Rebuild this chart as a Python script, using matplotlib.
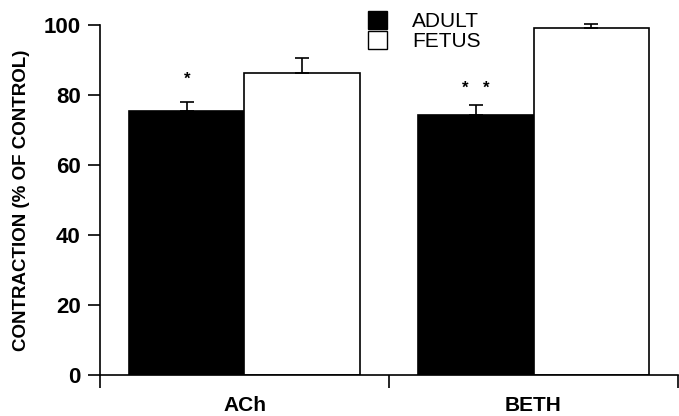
import matplotlib
matplotlib.use("agg")
import matplotlib.pyplot as plt
from matplotlib.patches import Patch

plt.rcParams['font.family'] = ['Liberation Sans', 'DejaVu Sans']

# data
categories = ['ACh', 'BETH']
adult = [75.3, 74.2]
adult_err = [2.7, 2.9]
fetus = [86.2, 99.1]
fetus_err = [4.4, 1.2]

fig = plt.figure(figsize=(6.79, 4.16), dpi=100)
ax = fig.add_axes([100 / 679., 41 / 416., 578 / 679., 350 / 416.])

centers = [0.5, 1.5]
w = 0.4
xa = [c - w / 2 for c in centers]
xf = [c + w / 2 for c in centers]

ax.bar(xa, adult, w, color='black', edgecolor='black', linewidth=1.2, zorder=2)
ax.bar(xf, fetus, w, color='white', edgecolor='black', linewidth=1.2, zorder=2)
ax.errorbar(xa, adult, yerr=[[0, 0], adult_err], fmt='none', ecolor='black',
            elinewidth=1.2, capsize=5, capthick=1.2, zorder=3, clip_on=False)
ax.errorbar(xf, fetus, yerr=[[0, 0], fetus_err], fmt='none', ecolor='black',
            elinewidth=1.2, capsize=5, capthick=1.2, zorder=3, clip_on=False)

# significance marks
ax.text(xa[0], 84.5, '*', ha='center', va='center', fontsize=12, fontweight='bold')
ax.text(xa[1] - 0.035, 81.8, '*', ha='center', va='center', fontsize=12, fontweight='bold')
ax.text(xa[1] + 0.035, 81.8, '*', ha='center', va='center', fontsize=12, fontweight='bold')

ax.set_xlim(0, 2)
ax.set_ylim(0, 100)
ax.set_yticks(range(0, 101, 20))
ax.set_xticks([0, 1, 2])
ax.set_xticklabels([])
ax.set_xticks(centers, minor=True)
ax.set_xticklabels(categories, minor=True, fontsize=15, fontweight='bold')
ax.tick_params(axis='x', which='minor', length=0, pad=15)
ax.tick_params(axis='both', which='major', direction='out', length=9, width=1.2)
ax.tick_params(axis='y', labelsize=16, pad=5)
for lab in ax.get_yticklabels():
    lab.set_fontweight('bold')

for s in ['top', 'right']:
    ax.spines[s].set_visible(False)
for s in ['left', 'bottom']:
    ax.spines[s].set_linewidth(1.2)

ax.set_ylabel('CONTRACTION (% OF CONTROL)', fontsize=13.5, fontweight='bold', labelpad=10)

handles = [Patch(facecolor='black', edgecolor='black'),
           Patch(facecolor='white', edgecolor='black')]
fig.legend(handles, ['ADULT', 'FETUS'], loc='upper left',
           bbox_to_anchor=(358 / 679., 1 - 1 / 416.), frameon=False,
           fontsize=15, handlelength=0.9, handleheight=0.9,
           handletextpad=1.2, labelspacing=0.0, borderpad=0)

fig.savefig('out.png', dpi=100)
